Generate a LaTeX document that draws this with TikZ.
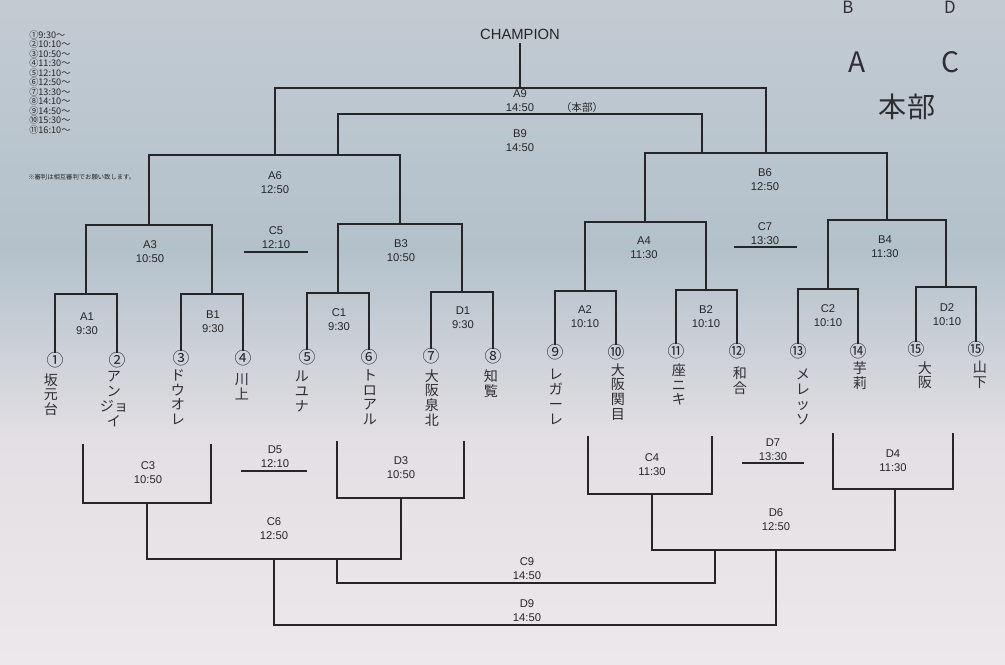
\documentclass[tikz,border=0pt]{standalone}
\usepackage{fontspec}
\setmainfont{Liberation Sans}
\newfontfamily\jp{Noto Sans CJK JP}
\usetikzlibrary{calc,positioning}
\definecolor{bgtop}{HTML}{C3CBD2}
\definecolor{bgmid}{HTML}{B3C1CB}
\definecolor{bglow}{HTML}{E3DFE4}
\definecolor{bgbot}{HTML}{ECE8EB}
\definecolor{ink}{HTML}{262628}
\definecolor{pen}{HTML}{2E2E32}
\tikzset{
  bk/.style={draw=ink, line width=1.2pt, line cap=rect},
  lab/.style={text=ink, font=\fontsize{8}{10}\selectfont, align=center, inner sep=0pt},
  title/.style={text=ink, font=\fontsize{10.5}{12}\selectfont},
  num/.style={text=ink, font=\jp\fontsize{12}{12}\selectfont, inner sep=0pt},
  hand/.style={text=pen, font=\jp\fontsize{10}{10.6}\selectfont, align=center, anchor=north, inner sep=0pt},
  scrawl/.style={text=pen, font=\jp\fontsize{20}{22}\selectfont, inner sep=0pt},
  sched/.style={text=ink, font=\jp\fontsize{6.5}{6.75}\selectfont, anchor=west, inner sep=0pt},
  note/.style={text=ink, font=\jp\fontsize{4.5}{5}\selectfont, anchor=west, inner sep=0pt}
}
\begin{document}
\begin{tikzpicture}[x=0.025cm, y=-0.025cm]
  \useasboundingbox (0,0) rectangle (1005,664);
  \clip (0,0) rectangle (1005,664);
  % photo background
  \shade[top color=bgtop, bottom color=bgmid] (0,0) rectangle (1005,250);
  \shade[top color=bgmid, bottom color=bglow] (0,250) rectangle (1005,440);
  \shade[top color=bglow, bottom color=bgbot] (0,440) rectangle (1005,664);

  % schedule
  \foreach \c/\t [count=\k] in {①/9:30,②/10:10,③/10:50,④/11:30,⑤/12:10,⑥/12:50,⑦/13:30,⑧/14:10,⑨/14:50,⑩/15:30,⑪/16:10}
    \node[sched] (s\k) at (29,{35+9.5*(\k-1)}) {\c\t〜};
  \node[note] (rule) at (28,177) {※審判は相互審判でお願い致します。};

  % handwriting top right
  \node[scrawl, font=\jp\fontsize{12}{12}\selectfont, anchor=north] (hB) at (848,1) {B};
  \node[scrawl, font=\jp\fontsize{12}{12}\selectfont, anchor=north] (hD) at (950,1) {D};
  \node[scrawl] (hA) at (857,62) {A};
  \node[scrawl] (hC) at (950,62) {C};
  \node[scrawl] (hq) at (907,107) {本部};

  % teams
  \node[num] (t1) at (55,360) {①};
  \node[num] (t2) at (117,360) {②};
  \node[num] (t3) at (181,358) {③};
  \node[num] (t4) at (243,358) {④};
  \node[num] (t5) at (307,357) {⑤};
  \node[num] (t6) at (369,357) {⑥};
  \node[num] (t7) at (431,356) {⑦};
  \node[num] (t8) at (493,356) {⑧};
  \node[num] (t9) at (555,352) {⑨};
  \node[num] (t10) at (616,352) {⑩};
  \node[num] (t11) at (676,351) {⑪};
  \node[num] (t12) at (737,351) {⑫};
  \node[num] (t13) at (798,351) {⑬};
  \node[num] (t14) at (858,351) {⑭};
  \node[num] (t15) at (916,349) {⑮};
  \node[num] (t16) at (976,349) {⑮};

  \node[hand] (n1) at (51,373) {坂\\元\\台};
  \node[hand] (n2) at (114,371) {ア\\ン\\ジョ\\イ};
  \node[hand] (n3) at (178,369) {ド\\ウ\\オ\\レ};
  \node[hand] (n4) at (242,373) {川\\上};
  \node[hand] (n5) at (302,371) {ル\\ユ\\ナ};
  \node[hand] (n6) at (370,369) {ト\\ロ\\ア\\ル};
  \node[hand] (n7) at (432,369) {大\\阪\\泉\\北};
  \node[hand] (n8) at (491,369) {知\\覧};
  \node[hand] (n9) at (556,369) {レ\\ガ\\ー\\レ};
  \node[hand] (n10) at (618,363) {大\\阪\\関\\目};
  \node[hand] (n11) at (679,363) {座\\ニ\\キ};
  \node[hand] (n12) at (740,367) {和\\合};
  \node[hand] (n13) at (803,369) {メ\\レ\\ッ\\ソ};
  \node[hand] (n14) at (860,361) {芋\\莉};
  \node[hand] (n15) at (925,361) {大\\阪};
  \node[hand] (n16) at (980,361) {山\\下};

  % winners bracket
  \coordinate (A1) at (86,294);
  \coordinate (B1) at (212,294);
  \coordinate (C1) at (338,293);
  \coordinate (D1) at (462,292);
  \coordinate (A2) at (585,291);
  \coordinate (B2) at (706,290);
  \coordinate (C2) at (828,289);
  \coordinate (D2) at (946,287);
  \coordinate (A3) at (149,225);
  \coordinate (B3) at (400,224);
  \coordinate (A4) at (645,222);
  \coordinate (B4) at (887,220);
  \coordinate (A6) at (275,155);
  \coordinate (B6) at (766,153);
  \coordinate (A6r) at (338,155);
  \coordinate (B6l) at (702,153);
  \coordinate (A9) at (520,88);
  \coordinate (B9) at (520,114);
  \node[title] (champ) at (520,34) {CHAMPION};

  \draw[bk] (t1.north) |- (A1) -| (t2.north);
  \draw[bk] (t3.north) |- (B1) -| (t4.north);
  \draw[bk] (t5.north) |- (C1) -| (t6.north);
  \draw[bk] (t7.north) |- (D1) -| (t8.north);
  \draw[bk] (t9.north) |- (A2) -| (t10.north);
  \draw[bk] (t11.north) |- (B2) -| (t12.north);
  \draw[bk] (t13.north) |- (C2) -| (t14.north);
  \draw[bk] (t15.north) |- (D2) -| (t16.north);
  \draw[bk] (A1) |- (A3) -| (B1);
  \draw[bk] (C1) |- (B3) -| (D1);
  \draw[bk] (A2) |- (A4) -| (B2);
  \draw[bk] (C2) |- (B4) -| (D2);
  \draw[bk] (A3) |- (A6) -| (B3);
  \draw[bk] (A4) |- (B6) -| (B4);
  \draw[bk] (A6r) |- (B9) -| (B6l);
  \draw[bk] (A6) |- (A9) -| (B6);
  \draw[bk] (A9) -- (champ.south);

  \node[lab] (lA1) at (87,324) {A1\\9:30};
  \node[lab] (lB1) at (213,322) {B1\\9:30};
  \node[lab] (lC1) at (339,320) {C1\\9:30};
  \node[lab] (lD1) at (463,318) {D1\\9:30};
  \node[lab] (lA2) at (585,317) {A2\\10:10};
  \node[lab] (lB2) at (706,317) {B2\\10:10};
  \node[lab] (lC2) at (828,316) {C2\\10:10};
  \node[lab] (lD2) at (947,315) {D2\\10:10};
  \node[lab] (lA3) at (150,252) {A3\\10:50};
  \node[lab] (lB3) at (401,251) {B3\\10:50};
  \node[lab] (lA4) at (644,248) {A4\\11:30};
  \node[lab] (lB4) at (885,247) {B4\\11:30};
  \node[lab] (lC5) at (276,238) {C5\\12:10};
  \node[lab] (lC7) at (765,234) {C7\\13:30};
  \node[lab] (lA6) at (275,183) {A6\\12:50};
  \node[lab] (lB6) at (765,180) {B6\\12:50};
  \node[lab] (lB9) at (520,141) {B9\\14:50};
  \node[lab] (lA9) at (520,101) {A9\\14:50};
  \node[lab, font=\jp\fontsize{7.5}{9}\selectfont] (hq2) at (582,107) {（本部）};
  \coordinate (c5a) at (245,252);
  \coordinate (c5b) at (307,252);
  \coordinate (c7a) at (735,247);
  \coordinate (c7b) at (796,247);
  \draw[bk] (c5a) -- (c5b);
  \draw[bk] (c7a) -- (c7b);

  % consolation bracket
  \coordinate (c3a) at (83,445);
  \coordinate (c3b) at (211,445);
  \coordinate (d3a) at (337,442);
  \coordinate (d3b) at (464,442);
  \coordinate (c4a) at (588,437);
  \coordinate (c4b) at (712,437);
  \coordinate (d4a) at (833,434);
  \coordinate (d4b) at (953,434);
  \coordinate (C3) at (147,503);
  \coordinate (D3) at (401,498);
  \coordinate (C4) at (652,494);
  \coordinate (D4) at (895,489);
  \coordinate (C6) at (274,559);
  \coordinate (D6) at (776,550);
  \coordinate (C6r) at (337,559);
  \coordinate (D6l) at (715,550);
  \coordinate (C9) at (526,583);
  \coordinate (D9) at (526,625);
  \draw[bk] (c3a) |- (C3) -| (c3b);
  \draw[bk] (d3a) |- (D3) -| (d3b);
  \draw[bk] (c4a) |- (C4) -| (c4b);
  \draw[bk] (d4a) |- (D4) -| (d4b);
  \draw[bk] (C3) |- (C6) -| (D3);
  \draw[bk] (C4) |- (D6) -| (D4);
  \draw[bk] (C6r) |- (C9) -| (D6l);
  \draw[bk] (C6) |- (D9) -| (D6);

  \node[lab] (lC3) at (148,473) {C3\\10:50};
  \node[lab] (lD3) at (401,468) {D3\\10:50};
  \node[lab] (lC4) at (652,465) {C4\\11:30};
  \node[lab] (lD4) at (893,461) {D4\\11:30};
  \node[lab] (lD5) at (275,457) {D5\\12:10};
  \node[lab] (lD7) at (773,450) {D7\\13:30};
  \node[lab] (lC6) at (274,529) {C6\\12:50};
  \node[lab] (lD6) at (776,520) {D6\\12:50};
  \node[lab] (lC9) at (527,569) {C9\\14:50};
  \node[lab] (lD9) at (527,611) {D9\\14:50};
  \coordinate (d5a) at (242,471);
  \coordinate (d5b) at (306,471);
  \coordinate (d7a) at (743,463);
  \coordinate (d7b) at (803,463);
  \draw[bk] (d5a) -- (d5b);
  \draw[bk] (d7a) -- (d7b);
\end{tikzpicture}
\end{document}
